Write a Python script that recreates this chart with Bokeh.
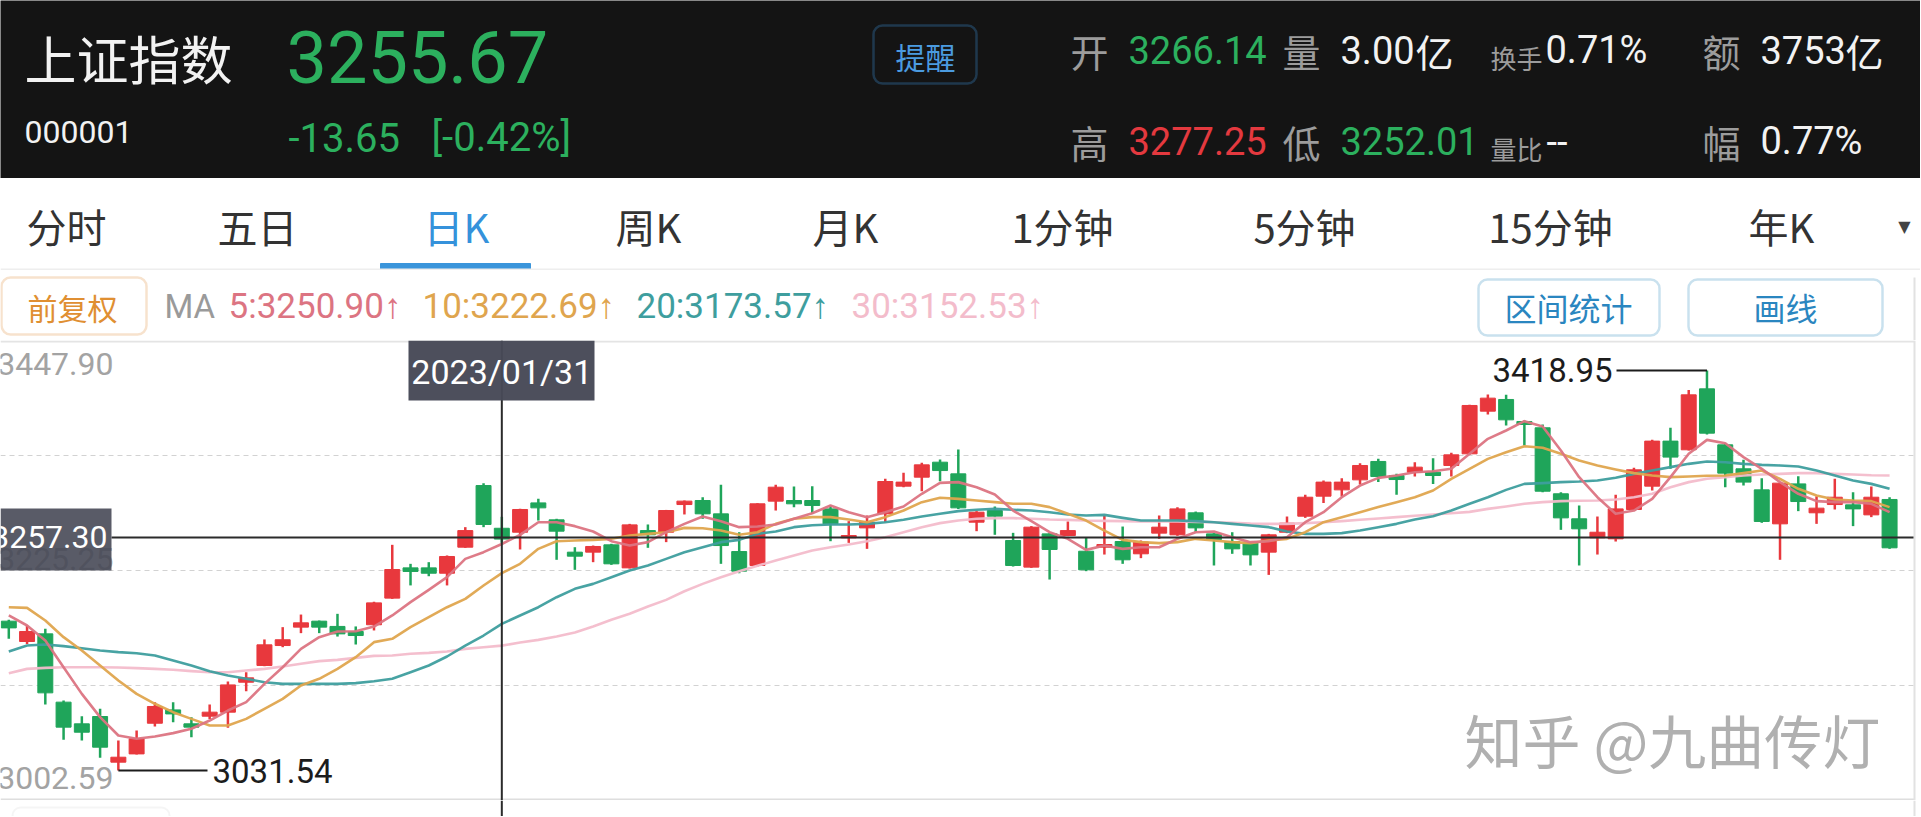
from bokeh.plotting import figure
from bokeh.layouts import column
from bokeh.models import Range1d, BoxAnnotation, ColumnDataSource
from bokeh.embed import file_html
from bokeh.resources import INLINE
from bokeh.core.properties import value

# ---------------- data ----------------
marked_date = "2023/01/31"
crosshair_index = 27
crosshair_price = 3257.30

opens = [
    3176.2, 3156.5, 3163.9, 3097.8, 3076.8, 3083.9, 3039.7, 3047.7, 3077.4, 3090.3, 3076.8, 3084.2, 3088.1, 3117.1, 3133.3, 3152.6, 3170.4, 3176.2, 3171.1, 3166.2, 3172.7,
    3198.5, 3227.8, 3227.8, 3222.6, 3247.8, 3307.5, 3266.14, 3262.3, 3290.7, 3274.3, 3243.0, 3243.0, 3250.1, 3227.8, 3263.9, 3262.3, 3289.1, 3293.0, 3280.1, 3243.6, 3230.1,
    3292.4, 3293.0, 3293.0, 3284.9, 3256.9, 3266.5, 3280.1, 3306.9, 3315.6, 3330.1, 3318.8, 3272.0, 3283.3, 3254.3, 3228.5, 3260.7, 3259.1, 3243.9, 3247.8, 3253.3, 3241.4,
    3261.4, 3259.8, 3281.1, 3260.7, 3253.3, 3251.7, 3243.0, 3262.3, 3277.8, 3297.2, 3303.3, 3313.0, 3330.8, 3317.2, 3320.4, 3320.4, 3326.9, 3338.2, 3379.5, 3390.8, 3369.5,
    3363.4, 3299.5, 3275.3, 3256.9, 3255.9, 3284.3, 3306.9, 3350.5, 3342.1, 3401.1, 3346.9, 3323.7, 3303.3, 3270.4, 3309.1, 3281.1, 3289.1, 3288.8, 3279.1, 3294.0,
]
highs = [
    3177.5, 3172.0, 3168.8, 3099.4, 3084.2, 3091.3, 3060.7, 3070.3, 3097.8, 3097.8, 3083.3, 3095.5, 3117.8, 3126.8, 3158.5, 3170.4, 3182.6, 3176.8, 3183.3, 3171.1, 3195.0,
    3250.1, 3231.7, 3233.3, 3239.8, 3267.2, 3309.8, 3277.25, 3285.0, 3294.6, 3275.3, 3247.8, 3249.4, 3251.1, 3270.4, 3269.8, 3283.9, 3293.0, 3296.2, 3308.2, 3262.3, 3290.4,
    3308.2, 3306.6, 3306.9, 3288.2, 3273.0, 3278.5, 3314.0, 3319.8, 3329.5, 3332.7, 3342.4, 3282.7, 3287.2, 3261.7, 3268.2, 3261.4, 3272.7, 3256.9, 3278.5, 3267.8, 3254.3,
    3278.5, 3286.5, 3282.3, 3261.4, 3262.3, 3252.7, 3260.7, 3277.5, 3298.5, 3312.4, 3314.6, 3329.1, 3333.4, 3318.8, 3330.1, 3334.0, 3339.2, 3385.6, 3395.6, 3395.3, 3370.5,
    3366.6, 3301.1, 3288.2, 3277.5, 3298.5, 3324.6, 3351.7, 3363.4, 3400.1, 3418.95, 3348.5, 3332.4, 3314.6, 3310.1, 3316.5, 3297.2, 3314.0, 3301.1, 3306.6, 3296.2,
]
lows = [
    3159.1, 3154.2, 3095.5, 3061.3, 3060.7, 3043.9, 3031.54, 3047.1, 3074.2, 3078.4, 3063.9, 3081.6, 3072.9, 3108.4, 3132.6, 3151.0, 3164.6, 3164.6, 3161.3, 3153.6, 3167.2,
    3197.8, 3210.8, 3219.7, 3210.8, 3247.2, 3267.2, 3252.01, 3245.6, 3273.6, 3235.6, 3225.9, 3233.3, 3230.7, 3227.2, 3247.2, 3252.7, 3279.5, 3275.3, 3231.7, 3222.6, 3229.1,
    3283.3, 3286.5, 3280.1, 3253.6, 3252.0, 3246.2, 3272.0, 3305.9, 3302.0, 3311.7, 3284.9, 3263.3, 3259.8, 3229.1, 3227.8, 3216.5, 3258.5, 3224.6, 3240.7, 3231.7, 3237.2,
    3255.9, 3258.8, 3262.3, 3230.1, 3241.4, 3230.1, 3221.0, 3261.4, 3276.2, 3290.7, 3296.9, 3308.5, 3310.8, 3298.5, 3316.2, 3309.1, 3316.2, 3337.5, 3376.3, 3365.6, 3346.3,
    3301.1, 3264.6, 3230.1, 3240.7, 3253.3, 3283.9, 3302.7, 3323.7, 3341.4, 3356.9, 3305.9, 3307.5, 3271.4, 3235.6, 3282.7, 3270.4, 3284.3, 3268.2, 3276.9, 3246.2,
]
closes = [
    3169.7, 3166.2, 3106.8, 3073.6, 3068.7, 3054.2, 3044.5, 3062.3, 3093.6, 3086.4, 3073.6, 3088.1, 3114.5, 3121.3, 3153.3, 3158.2, 3174.6, 3170.4, 3163.9, 3162.3, 3193.9,
    3226.2, 3224.3, 3222.6, 3238.8, 3263.9, 3269.8, 3255.67, 3284.3, 3285.9, 3263.3, 3239.1, 3248.5, 3231.7, 3269.4, 3259.8, 3283.3, 3292.4, 3280.1, 3249.4, 3224.6, 3289.8,
    3305.9, 3289.8, 3288.2, 3270.4, 3259.1, 3272.0, 3311.4, 3310.8, 3327.5, 3322.0, 3285.9, 3281.7, 3277.8, 3230.1, 3267.2, 3245.6, 3263.9, 3225.9, 3250.4, 3235.6, 3252.7,
    3267.2, 3284.9, 3266.5, 3255.2, 3246.2, 3240.4, 3259.8, 3271.1, 3296.2, 3310.8, 3310.8, 3326.9, 3316.2, 3313.3, 3325.3, 3317.2, 3337.2, 3385.0, 3392.1, 3371.1, 3366.6,
    3302.0, 3276.2, 3265.6, 3262.3, 3284.9, 3322.7, 3350.5, 3335.0, 3395.3, 3358.2, 3319.5, 3310.8, 3272.7, 3309.8, 3292.0, 3285.6, 3296.2, 3284.9, 3296.2, 3247.2,
]
ma5 = [
    3181.7, 3172.0, 3157.5, 3131.6, 3105.8, 3083.3, 3065.5, 3062.3, 3064.5, 3067.8, 3072.0, 3080.0, 3089.7, 3097.8, 3115.5, 3131.6, 3149.4, 3160.7, 3166.2, 3166.5, 3171.0,
    3181.7, 3194.6, 3206.5, 3218.8, 3236.5, 3243.0, 3250.9, 3259.8, 3272.0, 3272.0, 3268.2, 3263.0, 3253.6, 3249.4, 3252.7, 3262.3, 3270.4, 3277.5, 3273.0, 3267.2, 3267.8,
    3269.8, 3275.3, 3280.7, 3288.1, 3281.7, 3276.9, 3281.7, 3287.2, 3299.5, 3310.1, 3310.8, 3305.9, 3298.8, 3283.3, 3273.0, 3262.3, 3255.9, 3245.2, 3249.4, 3246.2, 3247.8,
    3247.8, 3255.9, 3262.3, 3263.0, 3257.5, 3252.7, 3253.6, 3257.5, 3272.0, 3281.7, 3296.2, 3307.5, 3314.9, 3317.2, 3320.4, 3321.4, 3323.7, 3338.2, 3352.7, 3360.8, 3369.8,
    3364.6, 3341.4, 3315.6, 3296.2, 3280.1, 3283.3, 3294.6, 3315.6, 3338.2, 3351.7, 3348.5, 3335.0, 3323.7, 3310.8, 3299.5, 3292.4, 3291.4, 3291.4, 3289.8, 3281.7,
]
ma10 = [
    3189.7, 3189.1, 3176.8, 3160.7, 3147.8, 3133.3, 3118.8, 3105.8, 3096.2, 3088.1, 3081.6, 3075.2, 3075.2, 3081.6, 3091.3, 3101.0, 3113.9, 3120.4, 3130.0, 3141.3, 3155.9,
    3159.1, 3170.4, 3180.1, 3189.7, 3197.8, 3210.7, 3222.7, 3231.7, 3246.2, 3253.6, 3254.3, 3254.9, 3255.9, 3259.1, 3260.7, 3262.3, 3266.5, 3266.2, 3263.9, 3259.8, 3262.3,
    3270.4, 3275.3, 3276.9, 3276.9, 3274.6, 3272.0, 3276.9, 3283.3, 3291.4, 3295.6, 3294.6, 3293.0, 3291.4, 3289.8, 3289.8, 3286.6, 3280.1, 3273.6, 3263.9, 3254.9, 3252.7,
    3251.7, 3252.7, 3255.9, 3254.3, 3252.7, 3251.7, 3254.3, 3255.9, 3262.3, 3272.0, 3276.9, 3281.7, 3286.6, 3291.4, 3296.2, 3302.7, 3314.0, 3323.7, 3333.3, 3339.8, 3345.6,
    3344.0, 3338.2, 3331.7, 3326.9, 3323.0, 3319.5, 3317.2, 3315.6, 3316.2, 3316.9, 3317.2, 3319.5, 3322.1, 3314.0, 3304.3, 3297.8, 3294.0, 3293.0, 3292.4, 3286.6,
]
ma20 = [
    3146.8, 3152.6, 3153.6, 3152.0, 3150.0, 3147.8, 3146.2, 3145.2, 3142.9, 3138.1, 3133.3, 3127.8, 3123.6, 3120.4, 3117.1, 3115.5, 3115.5, 3115.5, 3115.5, 3116.2, 3118.1,
    3120.4, 3126.8, 3133.3, 3142.0, 3152.6, 3162.3, 3173.6, 3181.7, 3189.7, 3199.4, 3207.5, 3212.3, 3218.8, 3225.2, 3230.1, 3236.5, 3243.0, 3247.8, 3252.7, 3254.9, 3260.7,
    3263.0, 3267.2, 3269.1, 3269.8, 3269.8, 3270.4, 3272.0, 3274.3, 3277.5, 3280.1, 3282.7, 3284.0, 3284.9, 3284.0, 3283.3, 3281.7, 3279.5, 3278.5, 3279.1, 3276.2, 3273.6,
    3273.6, 3273.6, 3273.0, 3272.0, 3270.4, 3268.8, 3267.2, 3263.0, 3260.7, 3260.7, 3261.4, 3263.9, 3267.2, 3270.4, 3274.6, 3277.8, 3283.3, 3289.8, 3296.2, 3303.3, 3309.1,
    3309.8, 3310.8, 3311.4, 3312.4, 3315.0, 3318.8, 3322.1, 3325.3, 3328.5, 3330.8, 3330.1, 3328.5, 3327.5, 3326.9, 3325.9, 3322.1, 3317.2, 3312.4, 3309.1, 3304.3,
]
ma30 = [
    3125.8, 3130.0, 3131.0, 3131.6, 3131.6, 3131.6, 3131.3, 3130.7, 3130.0, 3129.1, 3127.8, 3126.8, 3126.8, 3128.4, 3130.0, 3132.3, 3134.9, 3137.5, 3138.7, 3140.7, 3142.6,
    3142.9, 3144.6, 3145.5, 3146.8, 3149.4, 3151.0, 3152.5, 3155.5, 3158.1, 3161.3, 3165.2, 3171.0, 3177.5, 3183.3, 3190.4, 3196.8, 3205.2, 3212.3, 3218.8, 3224.6, 3229.8,
    3234.9, 3239.8, 3244.6, 3247.8, 3250.4, 3253.6, 3257.5, 3262.3, 3267.2, 3271.1, 3273.6, 3275.3, 3275.9, 3275.9, 3275.3, 3274.6, 3274.3, 3273.6, 3273.3, 3273.0, 3272.7,
    3272.7, 3272.7, 3272.3, 3272.0, 3271.4, 3270.7, 3270.4, 3270.4, 3271.1, 3272.0, 3273.0, 3274.3, 3275.6, 3276.9, 3278.2, 3279.5, 3280.7, 3282.0, 3284.9, 3287.2, 3289.8,
    3291.4, 3292.4, 3292.7, 3293.0, 3294.0, 3296.2, 3299.5, 3305.9, 3310.8, 3314.0, 3315.6, 3317.2, 3318.2, 3318.8, 3319.5, 3319.5, 3318.8, 3318.2, 3317.5, 3317.2,
]
for arr in (highs, lows, closes, ma5, ma10, ma20, ma30):
    assert len(arr) == len(opens), len(arr)

price_top, price_bottom = 3447.90, 3002.59
y_tick_values = [3447.90, 3225.25, 3002.59]
y_tick_labels = ["3447.90", "3225.25", "3002.59"]
grid_values = [3336.57, 3225.25, 3113.92]
max_price, min_price = 3418.95, 3031.54
max_index, min_index = 93, 6

ma_labels = ["5:3250.90↑", "10:3222.69↑", "20:3173.57↑", "30:3152.53↑"]
tab_labels = ["分时", "五日", "日K", "周K", "月K", "1分钟", "5分钟", "15分钟", "年K"]
active_tab = 2

name, code = "上证指数", "000001"
last_price, change, change_pct = "3255.67", "-13.65", "[-0.42%]"
q_open, q_high, q_low = "3266.14", "3277.25", "3252.01"
q_volume, q_turnover, q_amount, q_vol_ratio, q_amplitude = "3.00", "0.71%", "3753", "--", "0.77%"

# ---------------- style ----------------
W = 1920
NUM = "Roboto"
CJK = "Noto Sans CJK SC"
RED, GREEN = "#e8383d", "#1fa55a"
T_GREEN, T_RED = "#2cb05e", "#e4393f"
MA_COLORS = ["#dc7482", "#dfa54e", "#3e9e9e", "#f3bccb"]
BOX = "#474957"
EDGE = "#e2e2e2"


def panel(y_top, y_bot, bg):
    p = figure(width=W, height=int(y_bot - y_top), x_range=Range1d(0, W),
               y_range=Range1d(y_bot, y_top), output_backend="svg",
               toolbar_location=None, x_axis_location=None, y_axis_location=None,
               min_border=0, title=None, background_fill_color=bg,
               border_fill_color=bg, outline_line_color=None)
    p.grid.visible = False
    return p


def put(p, x, y, s, size, color, font=NUM, align="left", baseline="middle"):
    p.text(x=[x], y=[y], text=[s], text_font=value(font),
           text_font_size=value(f"{size}px"), text_color=color,
           text_align=align, text_baseline=baseline)


def button(p, l, r, t, b, color):
    p.add_layout(BoxAnnotation(left=l, right=r, top=t, bottom=b, fill_alpha=0,
                               line_color=color, line_width=2.5, border_radius=9))


# ---------------- header ----------------
h = panel(0, 178, "#141414")
LG, WH = "#9c9c9c", "#f2f2f2"
put(h, 24, 57, name, 52, WH, CJK)
put(h, 286, 56, last_price, 72, T_GREEN)
put(h, 24, 131, code, 32, WH)
put(h, 288, 137, change, 40, T_GREEN)
put(h, 431, 137, change_pct, 40, T_GREEN)
button(h, 873, 976, 25, 83, "#3d8fd4")
put(h, 925, 55, "提醒", 30, "#4b9be0", CJK, "center")
put(h, 1070, 50, "开", 38, LG, CJK)
put(h, 1128, 49, q_open, 38, T_GREEN)
put(h, 1282, 50, "量", 38, LG, CJK)
put(h, 1340, 49, q_volume, 38, WH)
put(h, 1415, 50, "亿", 38, WH, CJK)
put(h, 1490, 57, "换手", 26, LG, CJK)
put(h, 1545, 49, q_turnover, 38, WH)
put(h, 1702, 50, "额", 38, LG, CJK)
put(h, 1760, 49, q_amount, 38, WH)
put(h, 1845, 50, "亿", 38, WH, CJK)
put(h, 1070, 141, "高", 38, LG, CJK)
put(h, 1128, 140, q_high, 38, T_RED)
put(h, 1282, 141, "低", 38, LG, CJK)
put(h, 1340, 140, q_low, 38, T_GREEN)
put(h, 1490, 148, "量比", 26, LG, CJK)
put(h, 1546, 140, q_vol_ratio, 38, WH)
put(h, 1702, 141, "幅", 38, LG, CJK)
put(h, 1760, 140, q_amplitude, 38, WH)

# ---------------- tabs ----------------
t = panel(178, 270, "#ffffff")
tab_x = [66, 257, 456, 648, 845, 1062, 1304, 1550, 1781]
for i, (lab, x) in enumerate(zip(tab_labels, tab_x)):
    put(t, x, 225, lab, 40, "#3592db" if i == active_tab else "#333333", CJK, "center")
t.quad(left=[380], right=[530], top=[263], bottom=[269], color="#3a95db")
put(t, 1904, 226, "▼", 16, "#444444", "DejaVu Sans", "center")
t.segment(x0=[0], x1=[W], y0=[269], y1=[269], line_color="#eeeeee", line_width=2)

# ---------------- MA row ----------------
m = panel(270, 340, "#ffffff")
button(m, 1, 146, 277, 334, "#e3a05a")
put(m, 72, 306, "前复权", 30, "#e08f32", CJK, "center")
put(m, 164, 306, "MA", 33, "#9a9a9a")
for lab, x, c in zip(ma_labels, [228, 422, 636, 851], MA_COLORS):
    put(m, x, 306, lab, 35, c)
button(m, 1478, 1659, 279, 335, "#4d9cc6")
put(m, 1568, 306, "区间统计", 32, "#2a86c0", CJK, "center")
button(m, 1688, 1882, 279, 335, "#4d9cc6")
put(m, 1785, 306, "画线", 32, "#2a86c0", CJK, "center")
m.segment(x0=[1914], x1=[1914], y0=[277], y1=[340], line_color=EDGE, line_width=2)

# ---------------- chart ----------------
X0, STEP = 8.3, 18.26          # pixel position of first candle and candle spacing
PPX = (price_top - price_bottom) / 460.0


def ix(px):
    return (px - X0) / STEP


def py(ypx):
    return price_top - (ypx - 340) * PPX


c = figure(width=W, height=460, x_range=Range1d(ix(0), ix(W)),
           y_range=Range1d(price_bottom, price_top), output_backend="svg",
           toolbar_location=None, x_axis_location=None, y_axis_location=None,
           min_border=0, title=None, background_fill_color="#ffffff",
           border_fill_color="#ffffff", outline_line_color=None)
c.grid.visible = False

for g in grid_values:
    c.segment(x0=[ix(0)], x1=[ix(1913)], y0=[g], y1=[g], line_color="#d2d2d2",
              line_width=1, line_dash="5 4")
c.segment(x0=[ix(0)], x1=[ix(1914)], y0=[py(341)], y1=[py(341)], line_color="#e4e4e4", line_width=2)
c.segment(x0=[ix(0)], x1=[ix(1914)], y0=[py(799)], y1=[py(799)], line_color="#dedede", line_width=2)
c.segment(x0=[ix(1914)], x1=[ix(1914)], y0=[price_top], y1=[price_bottom], line_color=EDGE, line_width=2)

# y labels (pixel offsets downward from the tick value)
lab_offsets = [23.5, -11.5, -22.5]
for v, lab, off in zip(y_tick_values, y_tick_labels, lab_offsets):
    c.text(x=[ix(113)], y=[v - off * PPX], text=[lab],
           text_font=value(NUM), text_font_size=value("32px"), text_color="#a3a3a3",
           text_align="right", text_baseline="middle")

idx = list(range(len(opens)))
src = ColumnDataSource(dict(
    x=idx, o=opens, h=highs, l=lows, c=closes,
    top=[max(a, b) for a, b in zip(opens, closes)],
    bot=[min(a, b) for a, b in zip(opens, closes)],
    col=[RED if cl >= op else GREEN for op, cl in zip(opens, closes)],
))
c.segment(x0="x", y0="h", x1="x", y1="l", source=src, line_color="col", line_width=2.5)
c.vbar(x="x", width=0.82, top="top", bottom="bot", source=src, fill_color="col", line_color="col")

for ma, col in zip([ma30, ma20, ma10, ma5], MA_COLORS[::-1]):
    c.line(x=idx, y=ma, line_color=col, line_width=2.6, line_join="round", alpha=0.95)

# max / min markers
c.segment(x0=[min_index], x1=[ix(207)], y0=[min_price], y1=[min_price], line_color="#1c1c1c", line_width=2)
c.text(x=[ix(212)], y=[min_price], text=["%.2f" % min_price], text_font=value(NUM),
       text_font_size=value("33px"), text_color="#1c1c1c", text_baseline="middle")
c.segment(x0=[ix(1616)], x1=[max_index], y0=[max_price], y1=[max_price], line_color="#1c1c1c", line_width=2)
c.text(x=[ix(1612)], y=[max_price], text=["%.2f" % max_price], text_font=value(NUM),
       text_font_size=value("33px"), text_color="#1c1c1c", text_align="right", text_baseline="middle")

# watermark
c.text(x=[ix(1464)], y=[py(738)], text=["知乎 @九曲传灯"], text_font=value(CJK),
       text_font_size=value("58px"), text_color="#b0b0b0", text_baseline="middle")

# crosshair
c.segment(x0=[crosshair_index], x1=[crosshair_index], y0=[price_top], y1=[price_bottom],
          line_color="#2b2b2b", line_width=2)
c.segment(x0=[ix(111)], x1=[ix(1913)], y0=[crosshair_price], y1=[crosshair_price],
          line_color="#2b2b2b", line_width=2)
c.quad(left=[ix(408)], right=[ix(594)], top=[price_top], bottom=[py(400)], fill_color=BOX,
       line_color=None, fill_alpha=0.97)
c.text(x=[crosshair_index], y=[py(371)], text=[marked_date], text_font=value(NUM),
       text_font_size=value("34px"), text_color="#ffffff", text_align="center", text_baseline="middle")
c.quad(left=[ix(0)], right=[ix(111)], top=[py(508)], bottom=[py(570)], fill_color=BOX,
       line_color=None, fill_alpha=0.9)
c.text(x=[ix(107)], y=[crosshair_price], text=["%.2f" % crosshair_price], text_font=value(NUM),
       text_font_size=value("32px"), text_color="#ffffff", text_align="right", text_baseline="middle")

# ---------------- bottom strip ----------------
b = panel(800, 816, "#ffffff")
b.add_layout(BoxAnnotation(left=12, right=169, top=807, bottom=840, fill_alpha=0,
                           line_color="#dddddd", line_width=2, border_radius=8))
b.segment(x0=[X0 + crosshair_index * STEP], x1=[X0 + crosshair_index * STEP], y0=[800], y1=[816],
          line_color="#2b2b2b", line_width=2)
b.segment(x0=[1914], x1=[1914], y0=[800], y1=[816], line_color=EDGE, line_width=2)

layout = column(h, t, m, c, b, spacing=0)
open("out.html", "w").write(file_html(layout, INLINE))
